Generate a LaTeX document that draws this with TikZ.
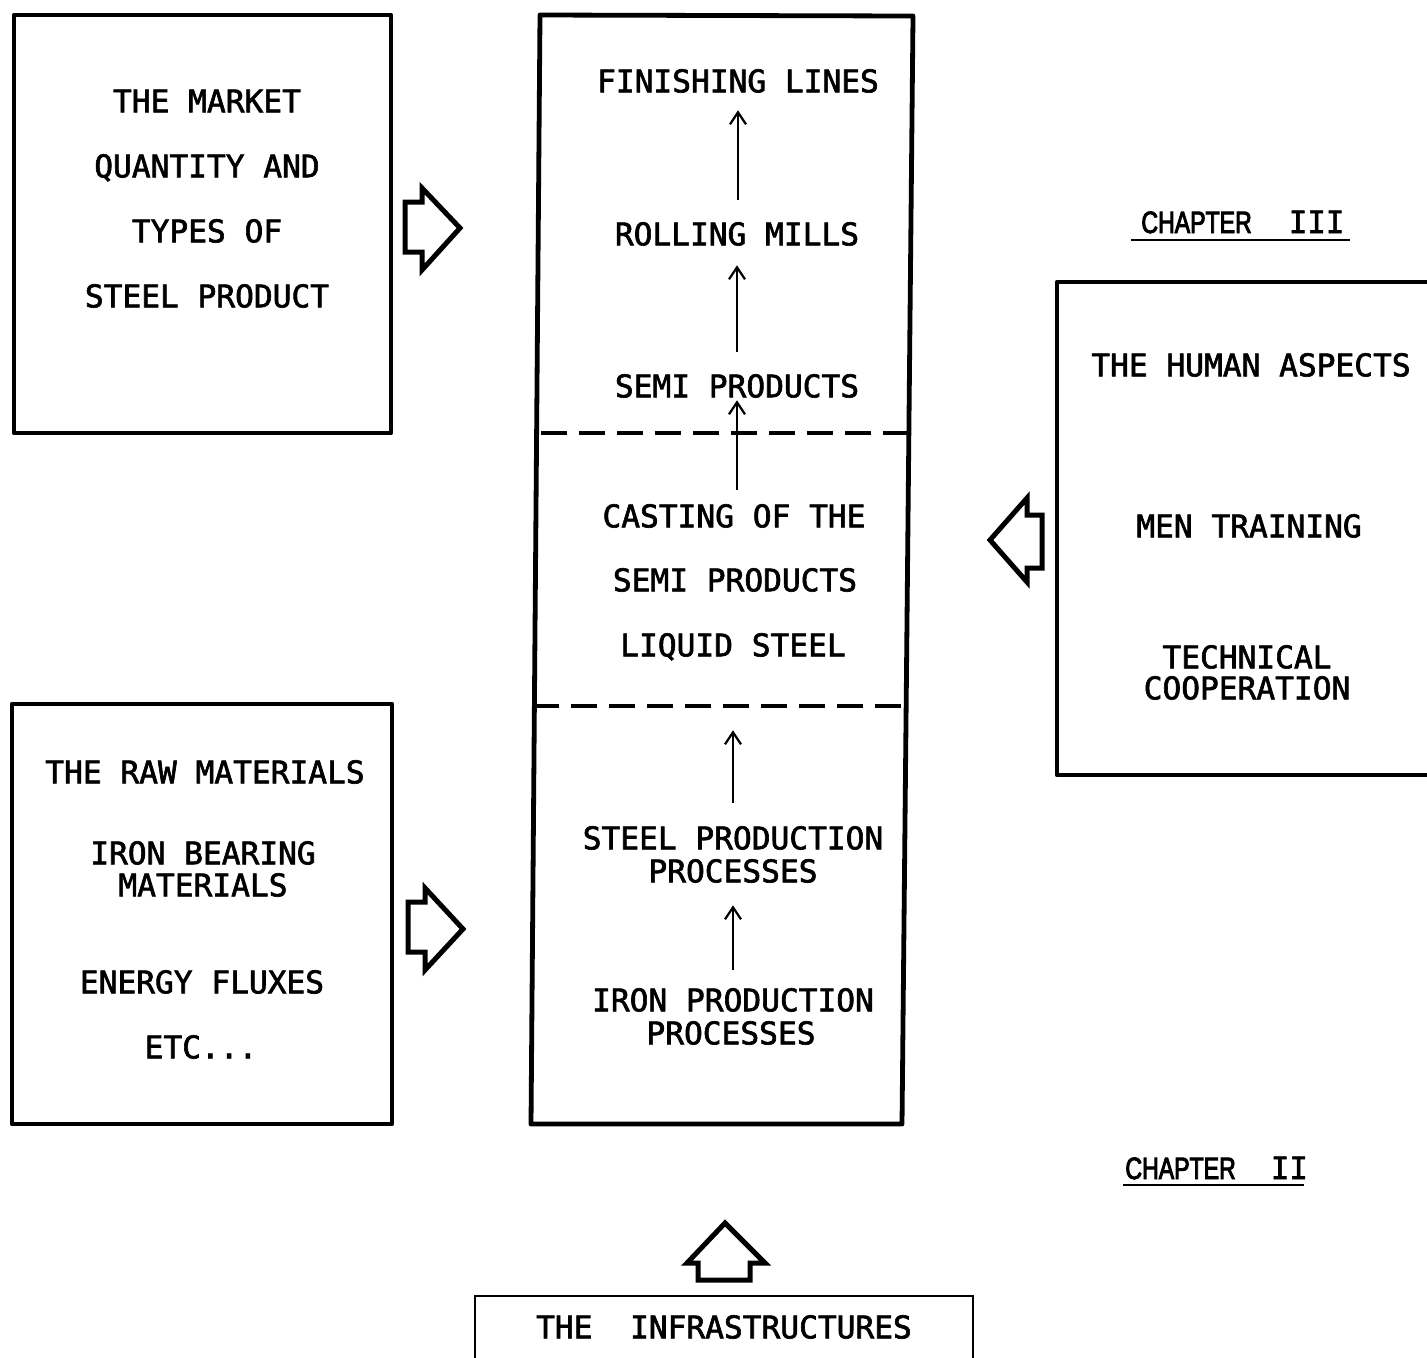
\documentclass[tikz,border=0pt]{standalone}
\usepackage{fontspec}
\usetikzlibrary{arrows.meta}
\newfontfamily\tw[FakeBold=2]{DejaVu Sans Mono}
\newfontfamily\chapfont[FakeStretch=0.75,FakeBold=3]{Liberation Sans}
\tikzset{
  box/.style={line width=2.4pt, line join=round},
  thinbox/.style={line width=1pt},
  lbl/.style={font=\tw\fontsize{15.6pt}{18pt}\selectfont, inner sep=0pt, text height=11.3pt, text depth=0pt, anchor=center},
  chap/.style={font=\chapfont\fontsize{15.4pt}{18pt}\selectfont, inner sep=0pt, text height=11pt, text depth=0pt, anchor=west},
  arr/.style={line width=1.1pt, -{Straight Barb[length=6pt,width=8pt,line width=1.1pt]}},
  hollow/.style={line width=2.5pt, line join=miter},
  sepline/.style={line width=2pt, dash pattern=on 13pt off 6pt}
}
\begin{document}
\begin{tikzpicture}[x=0.5pt,y=-0.5pt]
\useasboundingbox (0,0) rectangle (1427,1357);
\clip (0,0) rectangle (1427,1357);
\fill[white] (0,0) rectangle (1427,1357);

% boxes
\draw[box] (14,15) rectangle (391,433);
\draw[box] (12,704) rectangle (392,1124);
\draw[box] (540,15) -- (913,16) -- (902,1124) -- (531,1124) -- cycle;
\draw[box] (1440,282) -- (1057,282) -- (1057,775) -- (1440,775);
\draw[thinbox] (475,1380) -- (475,1296) -- (973,1296) -- (973,1380);

% dashed separators
\draw[sepline] (541,433) -- (909,433);
\draw[sepline] (533,706) -- (906,706);

% market box
\node[lbl] (m1) at (207,101) {THE MARKET};
\node[lbl] (m2) at (207,166) {QUANTITY AND};
\node[lbl] (m3) at (207,231) {TYPES OF};
\node[lbl] (m4) at (207,296) {STEEL PRODUCT};

% main column
\node[lbl] (fin) at (738,81) {FINISHING LINES};
\node[lbl] (rol) at (737,234) {ROLLING MILLS};
\node[lbl] (semi) at (737,386) {SEMI PRODUCTS};
\node[lbl] (cast) at (734,516) {CASTING OF THE};
\node[lbl] (semi2) at (735,580) {SEMI PRODUCTS};
\node[lbl] (liq) at (733,645) {LIQUID STEEL};
\node[lbl] (stp1) at (733,838) {STEEL PRODUCTION};
\node[lbl] (stp2) at (733,871) {PROCESSES};
\node[lbl] (irp1) at (733,1000) {IRON PRODUCTION};
\node[lbl] (irp2) at (731,1033) {PROCESSES};

\draw[arr, shorten <=11.3pt, shorten >=8.8pt] (fin.south |- rol.north) -- (fin.south);
\draw[arr, shorten <=11.3pt, shorten >=9.8pt] (semi.north) -- (rol.south);
\draw[arr, shorten <=7.3pt, shorten >=1.3pt] (semi.south |- cast.north) -- (semi.south);
\draw[arr, shorten <=11.8pt, shorten >=36.8pt] (stp1.north) -- (liq.south);
\draw[arr, shorten <=9.3pt, shorten >=11.3pt] (irp1.north) -- (stp2.south);

% human box
\node[lbl] (h1) at (1251,365) {THE HUMAN ASPECTS};
\node[lbl] (h2) at (1249,526) {MEN TRAINING};
\node[lbl] (h3) at (1247,657) {TECHNICAL};
\node[lbl] (h4) at (1247,688) {COOPERATION};

% raw materials box
\node[lbl] (r1) at (205,772) {THE RAW MATERIALS};
\node[lbl] (r2) at (203,853) {IRON BEARING};
\node[lbl] (r3) at (203,885) {MATERIALS};
\node[lbl] (r4) at (202,982) {ENERGY FLUXES};
\node[lbl] (r5) at (201,1047) {ETC...};

% infrastructures
\node[lbl] (inf) at (724,1327) {THE\ \ INFRASTRUCTURES};

% chapter labels
\node[chap] (c3) at (1141,222) {CHAPTER\hspace{18.5pt}{\tw III}};
\draw[line width=1.4pt] (1131,240) -- (1350,240);
\node[chap] (c2) at (1125,1168) {CHAPTER\hspace{17.5pt}{\tw II}};
\draw[line width=1.4pt] (1123,1185) -- (1304,1185);

% hollow block arrows
\draw[hollow] (405,202) -- (422,202) -- (422,188) -- (460,228) -- (422,270) -- (422,252) -- (405,252) -- cycle;
\draw[hollow] (408,902) -- (425,902) -- (425,888) -- (463,929) -- (425,970) -- (425,952) -- (408,952) -- cycle;
\draw[hollow] (1042,515) -- (1027,515) -- (1027,498) -- (990,540) -- (1027,582) -- (1027,568) -- (1042,568) -- cycle;
\draw[hollow] (698,1280) -- (698,1263) -- (687,1263) -- (725,1223) -- (765,1263) -- (750,1263) -- (750,1280) -- cycle;
\end{tikzpicture}
\end{document}
